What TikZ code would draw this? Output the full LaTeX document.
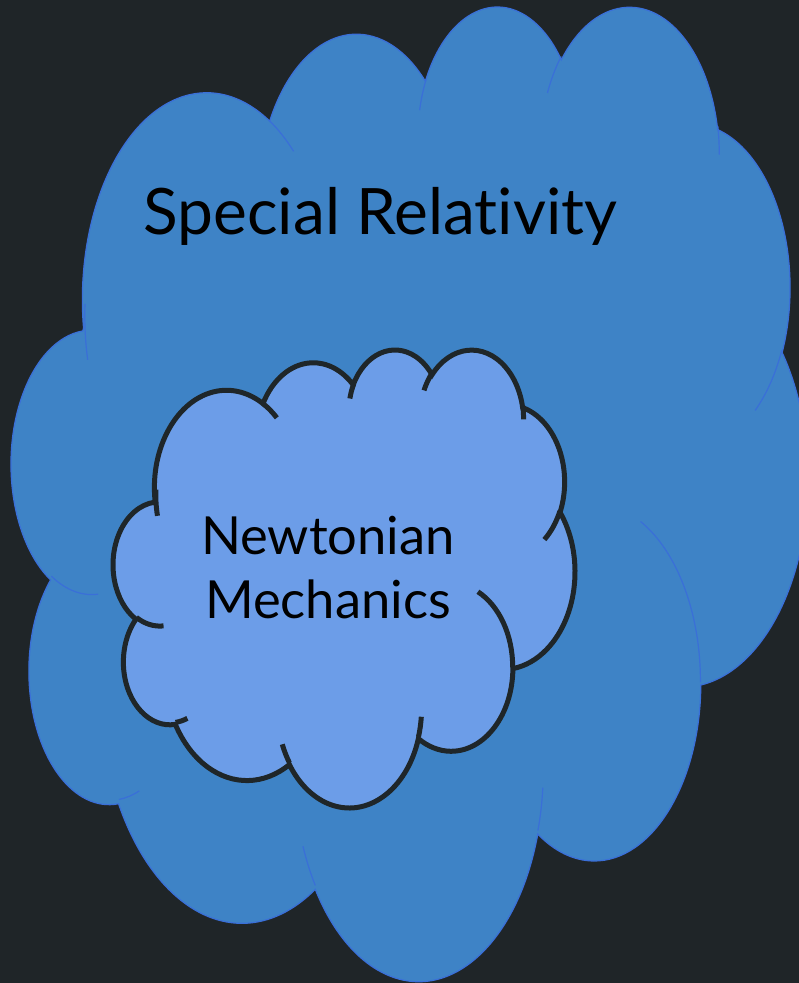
\documentclass[tikz,border=0pt]{standalone}
\usepackage{fontspec}
\usepackage{tikz}
\usetikzlibrary{positioning}
\newfontfamily\labelfont[Ligatures=NoCommon]{Lato}
\definecolor{bgdark}{HTML}{1F2528}
\definecolor{srblue}{HTML}{3E83C6}
\definecolor{srrim}{HTML}{3A6FD8}
\definecolor{nmblue}{HTML}{6C9DE8}
\definecolor{nmrim}{HTML}{1F2629}
\newcommand{\cloudoutline}{(3.9,14.37)
  arc[x radius=6.753, y radius=9.19, start angle=-187.745, end angle=-59.636]
  arc[x radius=5.333, y radius=7.267, start angle=-152.017, end angle=-45.456]
  arc[x radius=4.365, y radius=5.945, start angle=-153.487, end angle=-37.33]
  arc[x radius=4.857, y radius=6.595, start angle=-139.705, end angle=-10.211]
  arc[x radius=5.333, y radius=7.273, start angle=-74.768, end angle=23.212]
  arc[x radius=6.775, y radius=9.22, start angle=-37.529, end angle=81.863]
  arc[x radius=5.785, y radius=7.867, start angle=0.46, end angle=121.974]
  arc[x radius=6.752, y radius=9.215, start angle=16.845, end angle=146.24]
  arc[x radius=7.72, y radius=10.543, start angle=58.984, end angle=150.196]
  arc[x radius=4.36, y radius=5.918, start angle=-276.694, end angle=-136.871]
  arc[x radius=4.345, y radius=5.945, start angle=-239.643, end angle=-95.887]
  -- cycle}
\newcommand{\cloudcreases}{
  (4.693,26.177) arc[x radius=4.345, y radius=5.945, start angle=85.546, end angle=120.357]
  (6.928,34.899) arc[x radius=4.36, y radius=5.918, start angle=68.236, end angle=83.306]
  (16.478,39.09) arc[x radius=6.752, y radius=9.215, start angle=146.24, end angle=158.473]
  (28.827,34.751) arc[x radius=6.752, y radius=9.215, start angle=4.738, end angle=16.845]
  (34.129,22.954) arc[x radius=5.785, y radius=7.867, start angle=-64.028, end angle=0.46]
  (41.798,15.354) arc[x radius=5.333, y radius=7.273, start angle=23.212, end angle=49.649]
  (38.324,5.426) arc[x radius=4.857, y radius=6.595, start angle=-10.211, end angle=0.821]
  (29.078,3.952) arc[x radius=4.857, y radius=6.595, start angle=-156.287, end angle=-139.705]
  (22.141,4.72) arc[x radius=4.365, y radius=5.945, start angle=-167.726, end angle=-153.487]
  (14,5.192) arc[x radius=6.753, y radius=9.19, start angle=-59.636, end angle=-45.731]
  (4.127,15.789) arc[x radius=6.753, y radius=9.19, start angle=167.632, end angle=183.23]}

\begin{document}
\begin{tikzpicture}[
            x=1pt, y=-1pt,
            bigcloud/.style={fill=srblue, draw=srrim, line width=1.2pt},
            bigcrease/.style={draw=srrim, line width=1.2pt},
            smallcloud/.style={fill=nmblue, draw=nmrim, line width=5pt},
            smallcrease/.style={draw=nmrim, line width=5pt},
            title/.style={font=\labelfont\fontsize{64}{64}\selectfont, inner sep=0pt, anchor=base},
            inlabel/.style={font=\labelfont\fontsize{52.5}{52.5}\selectfont, inner sep=0pt, anchor=base}
        ]
            \useasboundingbox (0,0) rectangle (799,983);
            \clip (0,0) rectangle (799,983);
            \fill[bgdark] (0,0) rectangle (799,983);
            \begin{scope}[shift={(11.65,3.8)}, x=18.426pt, y=-22.553pt]
                \path[bigcloud] \cloudoutline;
                \path[bigcrease] \cloudcreases;
            \end{scope}
            \begin{scope}[shift={(113.4,348.5)}, x=10.681pt, y=-10.597pt]
                \path[smallcloud] \cloudoutline;
                \path[smallcrease] \cloudcreases;
            \end{scope}
            \node[title] (sr) at (380.5,234) {Special Relativity};
            \node[inlabel] (newt) at (328,554) {Newtonian};
            \node[inlabel] (mech) at (328,618) {Mechanics};
        \end{tikzpicture}
\end{document}
